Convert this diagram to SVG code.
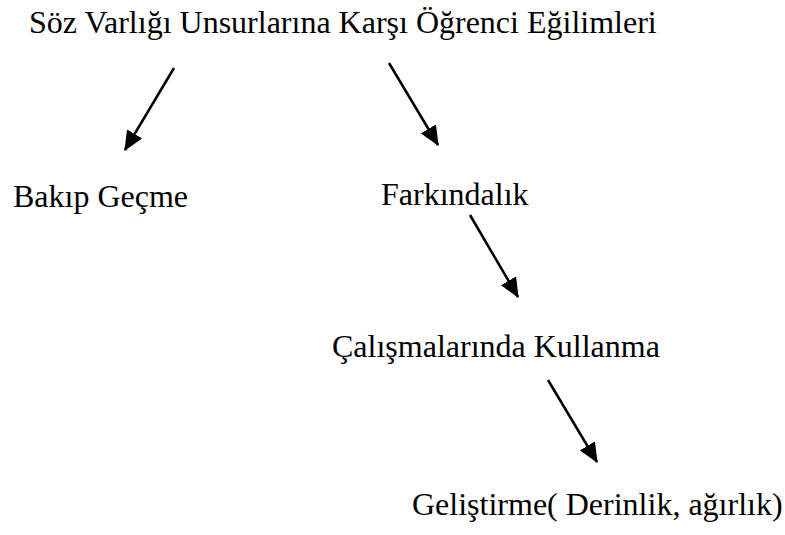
<svg xmlns="http://www.w3.org/2000/svg" width="785" height="535" viewBox="0 0 785 535">
<defs>
<marker id="ah" markerWidth="8" markerHeight="7" refX="7.5" refY="3.5" orient="auto" markerUnits="strokeWidth"><polygon points="0,0 8,3.5 0,7" fill="#000"/></marker>
<style>
text{font-family:"Liberation Serif","Times New Roman",serif;font-size:32px;fill:#000}
.c line{stroke:#000;stroke-width:2.5;marker-end:url(#ah)}
</style>
</defs>
<rect width="785" height="535" fill="#fff"/>
<g id="title"><text x="29" y="32.5">Söz Varlığı Unsurlarına Karşı Öğrenci Eğilimleri</text></g>
<g id="bakip"><text x="13" y="207">Bakıp Geçme</text></g>
<g id="farkindalik"><text x="381" y="205">Farkındalık</text></g>
<g id="calismalarinda"><text x="332" y="357">Çalışmalarında Kullanma</text></g>
<g id="gelistirme"><text x="412" y="515">Geliştirme( Derinlik, ağırlık)</text></g>
<g class="c" id="connectors">
<line x1="174" y1="68" x2="125" y2="150"/>
<line x1="389" y1="63" x2="438" y2="145"/>
<line x1="470" y1="215" x2="518" y2="297"/>
<line x1="548" y1="380" x2="597" y2="462"/>
</g>
</svg>
